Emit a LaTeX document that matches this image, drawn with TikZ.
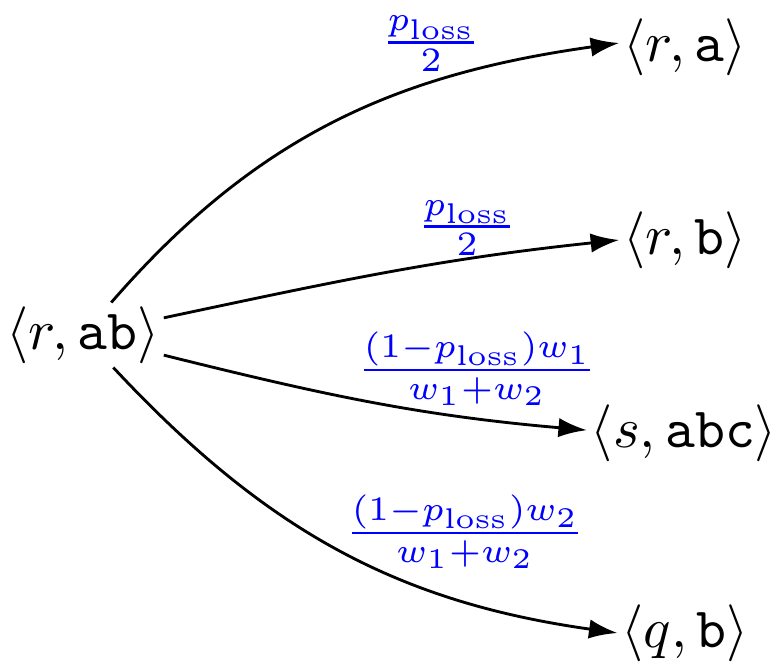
\documentclass[tikz,border=0pt]{standalone}
\usetikzlibrary{arrows.meta}
\begin{document}
\begin{tikzpicture}[x=0.17544pt,y=-0.17544pt,
  st/.style={inner sep=0.5pt},
  edge/.style={line width=0.5pt,-{Latex[length=5pt,width=3.4pt]}},
  lab/.style={text=blue,inner sep=0pt,font=\footnotesize}]
\useasboundingbox (0,0) rectangle (773,662);
\node[st] (ab) at (83,335) {$\langle r,\texttt{ab}\rangle$};
\node[st] (a) at (685,47) {$\langle r,\texttt{a}\rangle$};
\node[st] (b) at (685,240) {$\langle r,\texttt{b}\rangle$};
\node[st] (abc) at (684,433) {$\langle s,\texttt{abc}\rangle$};
\node[st] (qb) at (685,633) {$\langle q,\texttt{b}\rangle$};
\draw[edge] (ab) to[out=49,in=188] ([yshift=0.7pt]a.west);
\draw[edge] (ab) to[out=12,in=186] (b.west);
\draw[edge] (ab) to[out=-14,in=175] ([yshift=0.5pt]abc.west);
\draw[edge] (ab) to[out=-47,in=172] (qb.west);
\node[lab] (l1) at (431,44) {$\frac{p_{\mathrm{loss}}}{2}$};
\node[lab] (l2) at (467,228) {$\frac{p_{\mathrm{loss}}}{2}$};
\node[lab] (l3) at (477,369) {$\frac{(1-p_{\mathrm{loss}})w_1}{w_1+w_2}$};
\node[lab] (l4) at (465,532) {$\frac{(1-p_{\mathrm{loss}})w_2}{w_1+w_2}$};
\end{tikzpicture}
\end{document}
